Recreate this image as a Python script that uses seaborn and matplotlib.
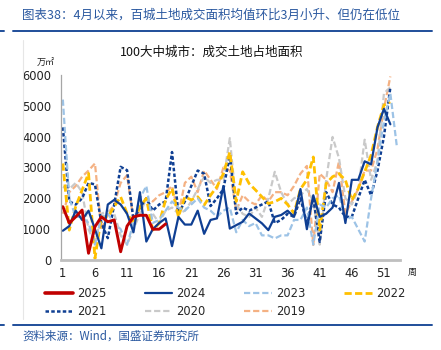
import matplotlib
matplotlib.use("Agg")
import matplotlib.pyplot as plt
from matplotlib.lines import Line2D
import numpy as np
import pandas as pd
import seaborn as sns

sns.set_theme(style="white")
plt.rcParams['font.family'] = ['DejaVu Sans', 'Noto Sans CJK SC']

# weekly land area sold, 100 cities (10k m2)
y2025 = [1730, 1200, 1400, 1620, 220, 1080, 1400, 1240, 1300, 270, 1100, 1400, 1450, 1450, 1000, 1000, 1170]
y2024 = [950, 1100, 1600, 1300, 1600, 1000, 380, 1800, 1950, 1800, 1500, 900, 2200, 600, 1000, 1200, 1350,
         450, 1400, 1150, 1150, 1600, 850, 1300, 1350, 2400, 1020, 1130, 1240, 1510, 1350, 1190, 970, 1400,
         1460, 1600, 1400, 2300, 1000, 2100, 1400, 1500, 1700, 2500, 1200, 2600, 2600, 3200, 3100, 4300,
         4900, 4400]
y2023 = [5200, 2000, 1400, 1400, 1200, 500, 1400, 1500, 1200, 1000, 500, 1200, 2000, 2400, 1200, 1300,
         1600, 1900, 1700, 1600, 1800, 2000, 1700, 1600, 1400, 1600, 1700, 900, 1300, 1100, 1200, 800, 800,
         700, 800, 800, 1300, 1300, 1700, 500, 1800, 1700, 2000, 2100, 1300, 1400, 1000, 600, 2000, 3200,
         4500, 5400, 3700]
y2022 = [3130, 970, 1730, 2270, 2810, 50, 1400, 1400, 1730, 2050, 1510, 1190, 1730, 2000, 970, 1190,
         1950, 2320, 1400, 2050, 1950, 2050, 1780, 2100, 2380, 2800, 3500, 1900, 2860, 2480, 2270, 2050,
         1830, 1890, 2000, 1800, 1510, 2300, 2600, 3340, 970, 2480, 2700, 2800, 2590, 1940, 2320, 2860,
         3400, 4310, 5020, 5120]
y2021 = [4300, 1900, 1800, 2000, 2500, 2450, 1200, 710, 1800, 3020, 2910, 1300, 1700, 2000, 1600, 1800,
         1900, 3500, 1500, 1900, 2400, 2900, 2800, 1750, 2000, 2300, 3400, 1500, 1700, 1600, 1700, 1800,
         1900, 1200, 1300, 1500, 1400, 2000, 1200, 2000, 590, 2200, 1800, 1700, 1400, 1400, 2000, 2600,
         2100, 2900, 4000, 5600]
y2020 = [2370, 2300, 2500, 2200, 1000, 500, 1500, 1600, 1500, 800, 500, 1000, 1500, 2000, 1500, 1200,
         1600, 1700, 1500, 1600, 1900, 2300, 2700, 2500, 2600, 2600, 3950, 1800, 1500, 1400, 1700, 1400,
         2000, 2860, 2200, 1800, 2000, 2100, 2300, 1900, 500, 2600, 3990, 3300, 2000, 1800, 2300, 3900,
         2600, 3200, 5400, 5600]
y2019 = [1500, 2200, 2400, 2700, 2900, 3130, 1000, 1500, 1800, 2500, 2750, 1300, 1600, 2000, 1900, 2100,
         2200, 2400, 1500, 2500, 2700, 2200, 2900, 2600, 2300, 3000, 2900, 1600, 2100, 1900, 1800, 2100,
         1900, 2200, 2200, 2100, 2400, 2800, 3050, 490, 2800, 2600, 2200, 3200, 1500, 1900, 2300, 2900,
         2900, 3600, 4900, 5950]

series = [
    ("2019", y2019, "#F4B183", (2.8, 1.3), 1.6),
    ("2020", y2020, "#C9C9C9", (2.8, 1.3), 1.6),
    ("2021", y2021, "#0F3F93", (1.4, 0.9), 1.8),
    ("2022", y2022, "#FFC000", (2.6, 1.2), 2.0),
    ("2023", y2023, "#9DC3E6", (2.8, 1.3), 1.6),
    ("2024", y2024, "#0F3F93", None, 1.6),
    ("2025", y2025, "#C00000", None, 2.1),
]

fig = plt.figure(figsize=(4.41, 3.5), dpi=100)
ax = fig.add_axes([0.138, 0.257, 0.769, 0.529])

handles = {}
for name, vals, col, dash, lw in series:
    df = pd.DataFrame({"week": np.arange(1, len(vals) + 1), "value": vals})
    sns.lineplot(data=df, x="week", y="value", ax=ax, color=col, linewidth=lw)
    ln = ax.lines[-1]
    h = Line2D([0], [0], color=col, lw=lw + 0.5 if name == "2025" else lw)
    if dash is not None:
        ln.set_dashes(dash)
        h.set_dashes(dash)
    handles[name] = h

ax.set_xlim(0.69, 53.5)
ax.set_ylim(0, 6000)
ax.set_xticks([1, 6, 11, 16, 21, 26, 31, 36, 41, 46, 51])
ax.set_yticks([0, 1000, 2000, 3000, 4000, 5000, 6000])
ax.set_xlabel("")
ax.set_ylabel("")
ax.tick_params(axis="both", labelsize=8.3, colors="#222222")
ax.tick_params(axis="y", length=3, width=0.8, color="#A0A0A0", pad=4)
ax.tick_params(axis="x", length=0, pad=5)
for s in ["top", "right"]:
    ax.spines[s].set_visible(False)
ax.spines["left"].set_color("#A6A6A6")
ax.spines["left"].set_linewidth(0.9)
ax.spines["bottom"].set_color("#BFBFBF")
ax.spines["bottom"].set_linewidth(2.0)

cjk = ['Noto Sans CJK SC', 'DejaVu Sans']
fig.text(0.05, 0.957, "图表38：4月以来，百城土地成交面积均值环比3月小升、但仍在低位",
         family=cjk, style="italic", color="#2B59A0", fontsize=9.0, va="center")
fig.add_artist(Line2D([0.03, 0.98], [0.911, 0.911], color="#1F4E9A", lw=1.4))
fig.add_artist(Line2D([0.0, 0.009], [0.911, 0.911], color="#1F4E9A", lw=1.4))
fig.text(0.272, 0.851, "100大中城市：成交土地占地面积", family=cjk, color="#111111",
         fontsize=9.0, va="center")
fig.text(0.083, 0.82, "万㎡", family=cjk, color="#222222", fontsize=6.5, va="center")
fig.text(0.925, 0.223, "周", family=cjk, color="#222222", fontsize=6.5, va="center")
fig.add_artist(Line2D([0.053, 0.053], [0.09, 0.885], color="#E6E6E6", lw=0.8))

order = ["2025", "2021", "2024", "2020", "2023", "2019", "2022"]
fig.legend([handles[k] for k in order], order, ncol=4, loc="upper left",
           bbox_to_anchor=(0.102, 0.18), frameon=False, fontsize=8.3,
           handlelength=2.4, handletextpad=0.35, columnspacing=3.35, labelspacing=0.4,
           borderpad=0, borderaxespad=0)

fig.add_artist(Line2D([0.03, 0.98], [0.071, 0.071], color="#1F4E9A", lw=1.4))
fig.add_artist(Line2D([0.0, 0.009], [0.071, 0.071], color="#1F4E9A", lw=1.4))
fig.text(0.05, 0.04, "资料来源：Wind，国盛证券研究所", family=cjk, style="italic",
         color="#2B59A0", fontsize=8.3, va="center")

fig.savefig("out.png", dpi=100)
